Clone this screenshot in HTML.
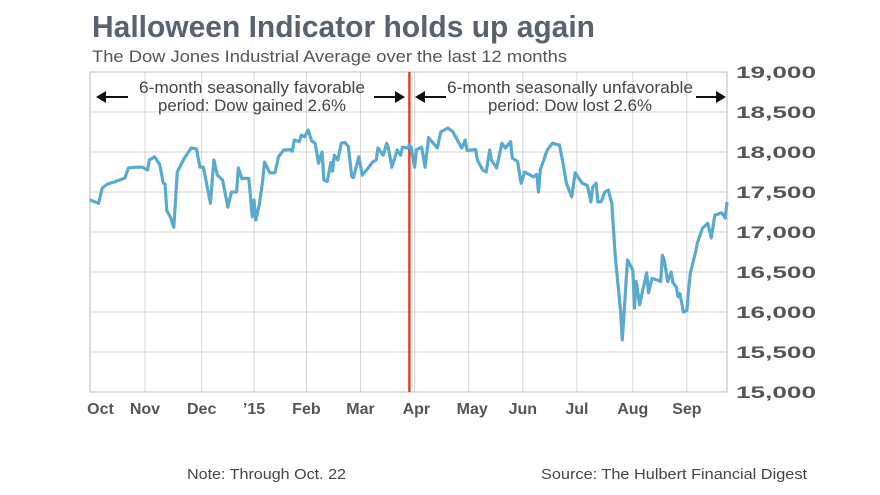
<!DOCTYPE html>
<html><head><meta charset="utf-8"><style>
body{margin:0;background:#fff;}
svg{display:block;font-family:"Liberation Sans",sans-serif;}
</style></head><body>
<svg id="chart" width="880" height="495" viewBox="0 0 880 495">
<text x="92" y="37" font-size="31" font-weight="bold" fill="#5a6270" textLength="503" lengthAdjust="spacingAndGlyphs">Halloween Indicator holds up again</text>
<text x="92" y="62" font-size="17" fill="#555" textLength="475" lengthAdjust="spacingAndGlyphs">The Dow Jones Industrial Average over the last 12 months</text>
<g id="grid"></g>
<rect x="90" y="72" width="637" height="320" fill="none" stroke="#bbb" stroke-width="1"/>
<g id="marks"></g>
<g fill="#444" font-size="17">
<text x="139" y="93" textLength="226" lengthAdjust="spacingAndGlyphs">6-month seasonally favorable</text>
<text x="158" y="111" textLength="188" lengthAdjust="spacingAndGlyphs">period: Dow gained 2.6%</text>
</g>
<g fill="#444" font-size="17">
<text x="447" y="93" textLength="246" lengthAdjust="spacingAndGlyphs">6-month seasonally unfavorable</text>
<text x="488" y="111" textLength="164" lengthAdjust="spacingAndGlyphs">period: Dow lost 2.6%</text>
</g>
<g fill="#111" stroke="#111" stroke-width="2">
<line x1="104" y1="97" x2="128" y2="97"/><polygon points="96,97 106,91 106,103" stroke="none"/>
<line x1="374" y1="97" x2="397" y2="97"/><polygon points="405,97 395,91 395,103" stroke="none"/>
<line x1="424" y1="97" x2="446" y2="97"/><polygon points="415,97 425,91 425,103" stroke="none"/>
<line x1="696" y1="97" x2="717" y2="97"/><polygon points="726,97 716,91 716,103" stroke="none"/>
</g>
<text x="187" y="479" font-size="15" fill="#444" textLength="159" lengthAdjust="spacingAndGlyphs">Note: Through Oct. 22</text>
<text x="541" y="479" font-size="15" fill="#444" textLength="266" lengthAdjust="spacingAndGlyphs">Source: The Hulbert Financial Digest</text>
</svg>
<script>
const days=[0,5,7,10,14,20,22,26,30,33,34,37,40,42,43,44,46,48,50,54,58,61,63,65,69,71,73,76,79,81,84,85,87,91,93,94,95,97,99,100,103,106,108,111,115,116,117,120,121,123,125,127,129,131,132,133,134,136,138,139,140,142,144,146,148,150,151,154,156,159,162,164,165,168,170,171,173,176,178,179,182,183,184,186,187,190,192,194,199,201,205,208,213,215,216,221,222,225,227,229,230,233,236,238,241,242,245,247,249,254,256,257,258,262,265,268,269,271,273,276,278,282,285,287,288,290,291,293,295,297,299,301,304,305,308,311,312,313,315,317,319,320,322,325,327,328,329,331,333,334,336,337,338,340,342,343,344,347,348,351,354,356,358,362,364,365];
const values=[17400,17360,17550,17600,17625,17675,17800,17810,17810,17775,17900,17940,17840,17610,17600,17270,17190,17060,17750,17920,18050,18040,17810,17810,17360,17900,17710,17650,17310,17500,17500,17800,17670,17670,17190,17400,17150,17340,17650,17875,17740,17740,17940,18025,18030,18010,18150,18130,18210,18190,18275,18140,18110,17860,17940,18000,17650,17630,17870,17760,17960,17900,18110,18120,18070,17690,17680,17940,17710,17790,17875,17900,18050,17960,18110,18050,17810,18025,17960,18060,18050,18090,18060,17810,18030,18060,17810,18180,18050,18250,18300,18250,18050,18150,18020,18030,17900,17775,17750,18025,17900,17800,18110,18050,18130,17925,17880,17610,17750,17690,17720,17500,17775,18025,18110,18090,18090,17860,17610,17440,17740,17610,17580,17375,17560,17610,17375,17380,17500,17525,17360,16690,16025,15650,16650,16525,16050,16380,16090,16300,16490,16240,16420,16400,16380,16710,16650,16380,16500,16370,16310,16190,16230,16000,16020,16275,16490,16750,16860,17050,17110,16925,17210,17240,17175,17375];
const yTicks=[15000,15500,16000,16500,17000,17500,18000,18500,19000];
const monthLabels=["Oct","Nov","Dec","\u201915","Feb","Mar","Apr","May","Jun","Jul","Aug","Sep"];
const monthLabelDays=[6,31.5,64,94,124,155,187,219,248,279,311,342];
const gridDays=[31.5,64,94,124,155,186,217,248,279,311,342];
const splitDay=[183];
const X0=90,X1=727,Y0=392,Y1=72,DMIN=0,DMAX=365,VMIN=15000,VMAX=19000;
function xs(d){return X0+(d-DMIN)/(DMAX-DMIN)*(X1-X0);}
function ys(v){return Y0-(v-VMIN)/(VMAX-VMIN)*(Y0-Y1);}
const NS="http://www.w3.org/2000/svg";
const grid=document.getElementById('grid'),marks=document.getElementById('marks'),svg=document.getElementById('chart');
function mk(t,a,p){const e=document.createElementNS(NS,t);for(const k in a)e.setAttribute(k,a[k]);(p||svg).appendChild(e);return e;}
yTicks.forEach(v=>{
 const l=mk('line',{x1:X0,x2:X1,y1:ys(v),y2:ys(v),stroke:'#d4d4d4','stroke-width':1},grid);
 
 
 const t=mk('text',{x:736,y:ys(v)+6,'font-size':17,'font-weight':'bold',fill:'#555',textLength:80,lengthAdjust:'spacingAndGlyphs'});
 t.textContent=v.toLocaleString('en-US');
 
 
});
gridDays.forEach(d=>{
 const l=mk('line',{x1:xs(d),x2:xs(d),y1:Y1,y2:Y0,stroke:'#d4d4d4','stroke-width':1},grid);
 
 
});
monthLabels.forEach((m,i)=>{
 const t=mk('text',{x:xs(monthLabelDays[i]),y:414,'font-size':16,'font-weight':'bold',fill:'#555','text-anchor':'middle'});
 t.textContent=m;
 
 
});
const rl=mk('line',{x1:xs(splitDay[0]),x2:xs(splitDay[0]),y1:Y1,y2:Y0,stroke:'#e8432d','stroke-width':2.5},marks);


const pts=days.map((d,i)=>xs(d).toFixed(1)+','+ys(values[i]).toFixed(1)).join(' ');
const pl=mk('polyline',{points:pts,fill:'none',stroke:'#5aaacd','stroke-width':3.2,'stroke-linejoin':'round'},marks);


</script>
</body></html>
